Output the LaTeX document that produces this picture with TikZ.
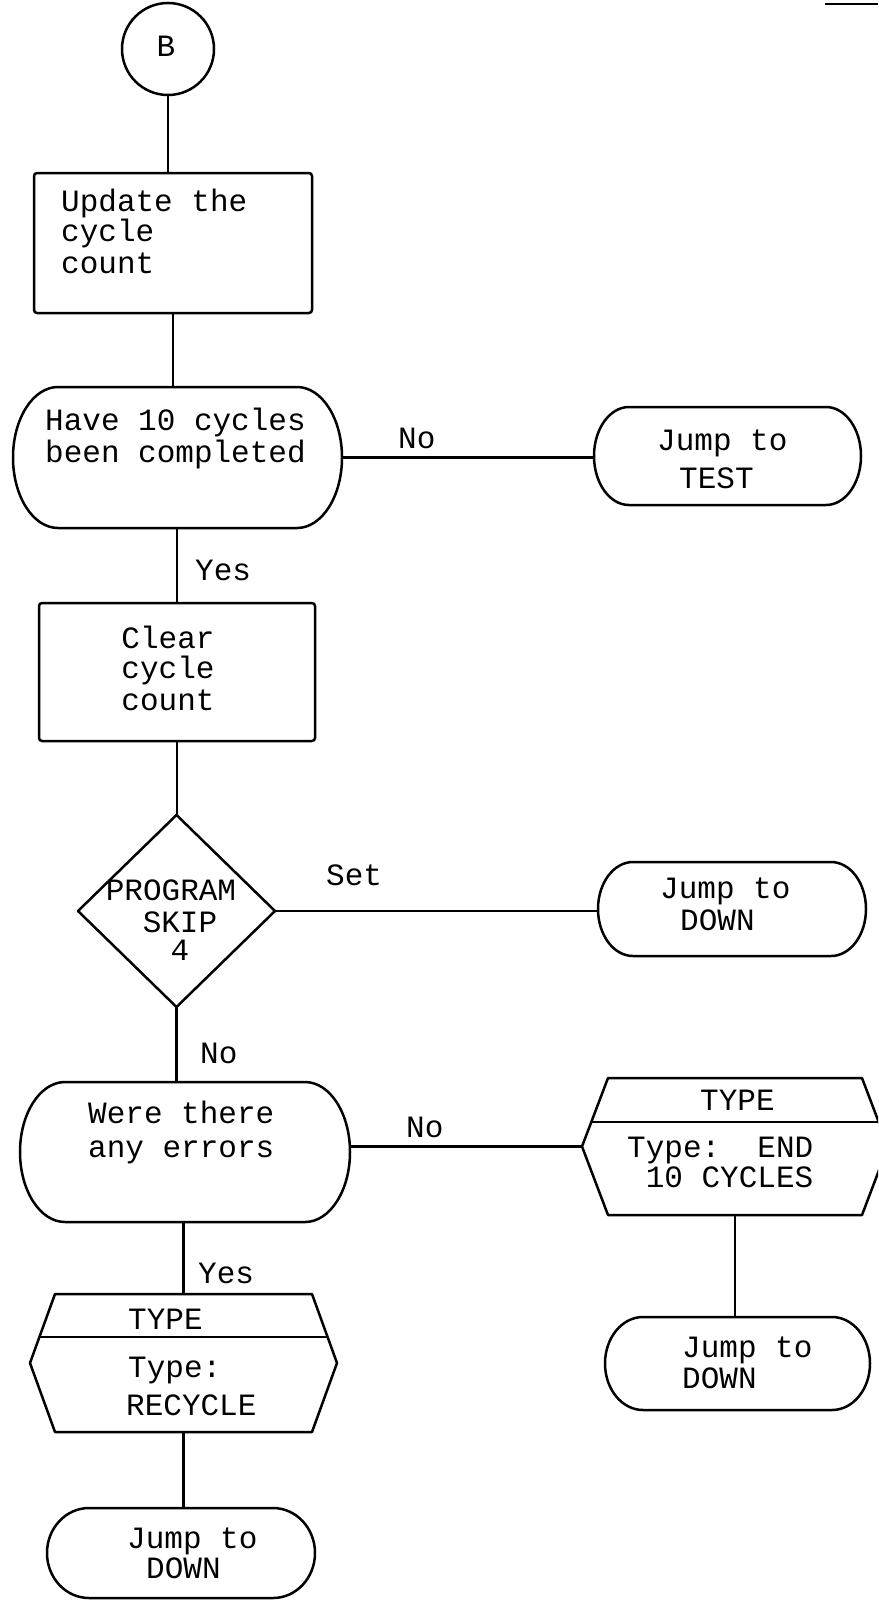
\documentclass[tikz,border=0pt]{standalone}
\usepackage{fontspec}
\newfontfamily\cour{Liberation Mono}
\usetikzlibrary{calc}
\newcommand\stadpath[3]{%
  \draw[shp] ($(#1.north west)+(#2,0)$) -- ($(#1.north east)+(-#2,0)$)
    arc[start angle=90, end angle=-90, x radius=#2, y radius=#3]
    -- ($(#1.south west)+(#2,0)$)
    arc[start angle=270, end angle=90, x radius=#2, y radius=#3] -- cycle;}
\newcommand\hexpath[4]{%
  \draw[shp] (#1.west) -- ($(#1.north west)+(#2,0)$) -- ($(#1.north east)+(-#2,0)$)
    -- (#1.east) -- ($(#1.south east)+(-#2,0)$) -- ($(#1.south west)+(#2,0)$) -- cycle;
  \draw[shp] ($(#1.north west)+(#3,-#4)$) -- ($(#1.north east)+(-#3,-#4)$);}
\begin{document}
\begin{tikzpicture}[x=1pt,y=1pt,
  shp/.style={line width=2.5pt, line join=round},
  frm/.style={draw=none, inner sep=0pt, outer sep=0pt},
  txt/.style={font=\cour\fontsize{31}{33}\selectfont, inner sep=0pt, anchor=base west},
  ctxt/.style={txt, anchor=base}]
\useasboundingbox (0,0) rectangle (878,-1600);
\clip (0,0) rectangle (878,-1600);

% shapes
\node[frm, circle, draw, shp, minimum size=92] (B) at (168,-49) {};
\node[frm, draw, shp, rounded corners=3, minimum width=278, minimum height=140] (upd) at (173,-243) {};
\node[frm, minimum width=329, minimum height=141] (have) at (177.5,-457.5) {};
\stadpath{have}{45}{70.5}
\node[frm, minimum width=267, minimum height=98] (test) at (727.5,-456) {};
\stadpath{test}{35}{49}
\node[frm, draw, shp, rounded corners=3, minimum width=276, minimum height=138] (clr) at (177,-672) {};
\node[frm, minimum width=197, minimum height=192] (sk) at (176.5,-911) {};
\draw[shp] (sk.north) -- (sk.east) -- (sk.south) -- (sk.west) -- cycle;
\node[frm, minimum width=268, minimum height=94] (down1) at (732,-909) {};
\stadpath{down1}{35}{47}
\node[frm, minimum width=330, minimum height=140] (were) at (185,-1152) {};
\stadpath{were}{45}{70}
\node[frm, minimum width=306, minimum height=137] (tyR) at (735,-1146.5) {};
\hexpath{tyR}{26}{9.3}{44}
\node[frm, minimum width=265, minimum height=93] (down3) at (737.5,-1363.5) {};
\stadpath{down3}{38}{46.5}
\node[frm, minimum width=307, minimum height=138] (tyL) at (183.5,-1363) {};
\hexpath{tyL}{25}{9.4}{43}
\node[frm, minimum width=268, minimum height=90] (down2) at (181,-1553) {};
\stadpath{down2}{42}{45}

% connectors
\draw[shp] (B.south) -- (B.south |- upd.north);
\draw[shp] (upd.south) -- (upd.south |- have.north);
\draw[shp] (clr.north |- have.south) -- (clr.north);
\draw[shp] (have.east) -- (have.east -| test.west);
\draw[shp] (clr.south) -- (clr.south |- sk.north);
\draw[shp] (sk.east) -- (sk.east -| down1.west);
\draw[shp] (sk.south) -- (sk.south |- were.north);
\draw[shp] (tyR.west -| were.east) -- (tyR.west);
\draw[shp] (tyR.south) -- (tyR.south |- down3.north);
\draw[shp] (tyL.north |- were.south) -- (tyL.north);
\draw[shp] (tyL.south) -- (tyL.south |- down2.north);
\draw[line width=2pt] (825,-4) -- (878,-4);

% texts
\node[ctxt] (tB) at (166,-57) {B};
\node[txt] (u1) at (61,-211) {Update the};
\node[txt] (u2) at (61,-241) {cycle};
\node[txt] (u3) at (61,-273) {count};
\node[txt] (h1) at (45,-430) {Have 10 cycles};
\node[txt] (h2) at (45,-462) {been completed};
\node[txt] (lno1) at (398,-448) {No};
\node[txt] (j1a) at (657,-450) {Jump to};
\node[txt] (j1b) at (679,-488) {TEST};
\node[txt] (lyes1) at (195,-580) {Yes};
\node[ctxt] (c1) at (168,-648) {Clear};
\node[ctxt] (c2) at (168,-678) {cycle};
\node[ctxt] (c3) at (168,-710) {count};
\node[ctxt] (p1) at (171,-900) {PROGRAM};
\node[ctxt] (p2) at (180,-932) {SKIP};
\node[ctxt] (p3) at (180,-960) {4};
\node[txt] (lset) at (326,-885) {Set};
\node[txt] (j2a) at (660,-898) {Jump to};
\node[txt] (j2b) at (680,-930) {DOWN};
\node[txt] (lno2) at (200,-1063) {No};
\node[txt] (w1) at (88,-1123) {Were there};
\node[txt] (w2) at (88,-1157) {any errors};
\node[txt] (lno3) at (406,-1137) {No};
\node[txt] (lyes2) at (198,-1283) {Yes};
\node[txt] (r0) at (700,-1110) {TYPE};
\node[txt] (r1) at (627,-1157) {Type:~~END};
\node[txt] (r2) at (627,-1187) {~10 CYCLES};
\node[txt] (j3a) at (682,-1357) {Jump to};
\node[txt] (j3b) at (682,-1388) {DOWN};
\node[txt] (l0) at (128,-1329) {TYPE};
\node[txt] (l1) at (128,-1377) {Type:};
\node[txt] (l2) at (126,-1415) {RECYCLE};
\node[txt] (j4a) at (127,-1548) {Jump to};
\node[txt] (j4b) at (146,-1578) {DOWN};
\end{tikzpicture}
\end{document}
